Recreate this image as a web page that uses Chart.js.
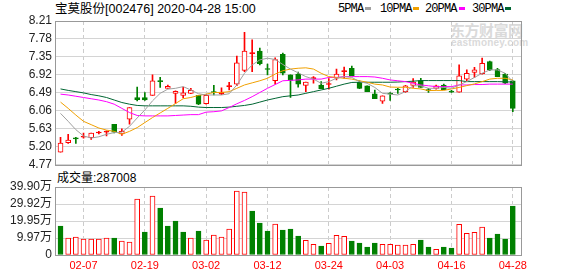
<!DOCTYPE html>
<html>
<head>
<meta charset="utf-8">
<script src="https://cdn.jsdelivr.net/npm/chart.js@4.4.1/dist/chart.umd.min.js"></script>
<style>
  body { margin: 0; width: 578px; height: 276px; background: #fff; position: relative; overflow: hidden;
         font-family: "Liberation Sans", Arial, "Noto Sans CJK SC", sans-serif; }
  .abs { position: absolute; white-space: nowrap; }
  #title { left: 55px; top: 1px; font-size: 12.5px; line-height: 16px; color: #000; }
  .lg { font-family: "Liberation Mono", monospace; font-size: 12px; letter-spacing: -0.9px; top: 2px; line-height: 14px; color: #000; }
  .box { width: 6px; height: 3px; top: 7px; }
  #volLabel { left: 57px; top: 170px; font-size: 12px; line-height: 16px; color: #000; }
  #wm1 { left: 450px; top: 21px; font-size: 15px; font-weight: bold; color: #dadada; font-family: "Noto Sans CJK SC", sans-serif; line-height: 18px; letter-spacing: -0.5px; }
  #wm2 { left: 451px; top: 37px; font-size: 10px; font-weight: bold; color: #dadada; line-height: 11px; letter-spacing: 0.2px; }
  #priceWrap { left: 0; top: 0; }
  #volWrap { left: 0; top: 176px; }
</style>
</head>
<body>
<div id="wm1" class="abs">东方财富网</div>
<div id="wm2" class="abs">eastmoney.com</div>
<div id="title" class="abs">宝莫股份[002476] 2020-04-28 15:00</div>
<div class="abs lg" style="left:338px">5PMA</div><div class="abs box" style="left:365px;background:#a0a0a0"></div>
<div class="abs lg" style="left:380px">10PMA</div><div class="abs box" style="left:413px;background:#f0a000"></div>
<div class="abs lg" style="left:425px">20PMA</div><div class="abs box" style="left:459px;background:#ff00ff"></div>
<div class="abs lg" style="left:472px">30PMA</div><div class="abs box" style="left:505px;background:#006633"></div>
<div id="volLabel" class="abs">成交量:287008</div>
<div id="priceWrap" class="abs"><canvas id="priceChart" width="578" height="175"></canvas></div>
<div id="volWrap" class="abs"><canvas id="volChart" width="578" height="100"></canvas></div>
<script>
const dates = ['02-04','02-05','02-06','02-07','02-10','02-11','02-12','02-13','02-14','02-17',
  '02-18','02-19','02-20','02-21','02-24','02-25','02-26','02-27','02-28','03-02',
  '03-03','03-04','03-05','03-06','03-09','03-10','03-11','03-12','03-13','03-16',
  '03-17','03-18','03-19','03-20','03-23','03-24','03-25','03-26','03-27','03-30',
  '03-31','04-01','04-02','04-03','04-07','04-08','04-09','04-10','04-13','04-14',
  '04-15','04-16','04-17','04-20','04-21','04-22','04-23','04-24','04-27','04-28'];
const tickDates = ['02-07','02-19','03-02','03-12','03-24','04-03','04-16','04-28'];

const opens = [5.07,5.30,5.40,5.43,5.42,5.53,5.55,5.74,5.51,5.86,
  6.38,6.38,6.43,6.78,6.60,6.475,6.43,6.48,6.43,6.23,
  6.51,6.46,6.64,6.70,7.03,7.43,7.49,7.06,6.78,7.41,
  6.92,6.94,6.67,6.83,6.68,6.69,6.84,7.00,7.08,6.74,
  6.66,6.47,6.29,6.47,6.57,6.52,6.67,6.785,6.55,6.60,
  6.68,6.515,6.51,6.82,6.98,6.95,7.24,7.05,6.94,6.78];
const highs = [5.43,5.50,5.43,5.53,5.53,5.57,5.58,5.74,5.63,6.14,
  6.63,6.50,6.92,6.86,6.68,6.54,6.63,6.60,6.43,6.45,
  6.67,6.61,6.74,7.37,7.94,7.76,7.56,7.18,7.33,7.44,
  6.92,6.99,6.75,6.88,6.76,6.83,7.06,7.11,7.13,6.78,
  6.66,6.56,6.42,6.50,6.60,6.67,6.83,6.84,6.60,6.68,
  6.70,6.55,7.16,7.04,7.10,7.32,7.25,7.08,6.96,6.78];
const lows = [5.07,5.28,5.28,5.41,5.38,5.51,5.46,5.53,5.47,5.74,
  6.30,6.31,6.43,6.62,6.60,6.24,6.37,6.47,6.21,6.22,
  6.44,6.45,6.56,6.66,7.00,7.00,7.16,6.92,6.70,6.92,
  6.38,6.63,6.52,6.72,6.59,6.58,6.80,6.84,6.90,6.59,
  6.52,6.35,6.24,6.31,6.48,6.50,6.62,6.62,6.50,6.58,
  6.57,6.50,6.51,6.78,6.86,6.94,7.02,6.88,6.71,6.04];
const closes = [5.29,5.36,5.39,5.45,5.53,5.55,5.57,5.55,5.57,6.14,
  6.33,6.32,6.78,6.76,6.65,6.53,6.49,6.55,6.22,6.43,
  6.50,6.51,6.65,7.21,7.49,7.44,7.19,7.05,7.29,6.96,
  6.79,6.70,6.75,6.84,6.59,6.70,6.94,7.01,6.90,6.60,
  6.52,6.35,6.42,6.46,6.56,6.66,6.75,6.62,6.545,6.66,
  6.57,6.51,6.90,6.96,7.04,7.20,7.04,6.88,6.72,6.12];

const ma5 = [6.00,5.81,5.61,5.46,5.41,5.44,5.50,5.54,5.55,5.69,
  5.89,6.08,6.30,6.48,6.58,6.60,6.64,6.56,6.47,6.44,
  6.44,6.44,6.47,6.68,6.96,7.16,7.28,7.32,7.29,7.17,
  7.06,6.97,6.88,6.82,6.72,6.76,6.84,6.88,6.86,6.76,
  6.72,6.62,6.48,6.46,6.44,6.52,6.66,6.66,6.60,6.60,
  6.62,6.60,6.68,6.76,6.86,6.96,7.04,7.04,6.96,6.76];
const ma10 = [6.27,6.12,5.96,5.81,5.73,5.65,5.60,5.57,5.50,5.57,
  5.66,5.78,5.90,6.01,6.12,6.235,6.35,6.38,6.43,6.46,
  6.50,6.50,6.52,6.60,6.68,6.73,6.78,6.84,6.94,7.02,
  7.06,7.08,7.09,7.06,6.96,6.88,6.86,6.84,6.82,6.78,
  6.745,6.70,6.68,6.63,6.625,6.625,6.60,6.585,6.545,6.55,
  6.55,6.585,6.62,6.665,6.705,6.76,6.82,6.84,6.84,6.80];
const ma20 = [6.46,6.44,6.41,6.38,6.35,6.32,6.28,6.22,6.12,6.02,
  5.95,5.94,5.94,5.94,5.94,5.95,5.96,5.97,5.97,6.03,
  6.04,6.06,6.14,6.23,6.31,6.40,6.50,6.60,6.69,6.78,
  6.79,6.80,6.82,6.82,6.82,6.86,6.86,6.88,6.88,6.88,
  6.88,6.87,6.84,6.80,6.78,6.76,6.72,6.68,6.66,6.64,
  6.64,6.64,6.68,6.68,6.69,6.69,6.70,6.70,6.70,6.70];
const ma30 = [6.585,6.55,6.52,6.49,6.45,6.42,6.38,6.32,6.26,6.22,
  6.19,6.18,6.18,6.18,6.18,6.18,6.18,6.17,6.15,6.14,
  6.14,6.14,6.15,6.17,6.19,6.22,6.27,6.32,6.36,6.40,
  6.42,6.44,6.48,6.52,6.56,6.60,6.65,6.70,6.74,6.745,
  6.745,6.745,6.745,6.745,6.75,6.76,6.77,6.785,6.785,6.785,
  6.785,6.785,6.785,6.76,6.76,6.76,6.76,6.76,6.755,6.75];

// volume in 万 (10k), 1 = closed above the previous close
const volumes = [17.0,9.98,10.56,9.39,9.39,9.39,9.98,9.98,8.21,7.63,
  32.86,13.5,34.6,27.6,17.0,19.95,13.5,9.98,14.1,8.8,
  11.7,10.56,15.26,37.55,36.97,25.8,18.78,14.1,18.2,14.67,
  15.26,11.15,8.6,6.26,5.28,6.85,11.54,10.95,8.21,7.04,
  4.69,7.04,6.26,6.26,5.87,5.87,6.26,8.8,4.69,3.33,
  4.69,4.1,18.0,12.7,13.3,16.4,9.98,12.3,9.39,28.70];
const volRise = [0,1,1,1,1,1,1,0,1,1, 1,0,1,0,0,0,0,1,0,1, 1,1,1,1,1,0,0,0,1,0,
  0,0,1,1,0,1,1,1,0,0, 0,0,1,1,1,1,1,0,0,1, 0,0,1,1,1,1,0,0,0,0];

const priceTicks = [4.77,5.20,5.63,6.06,6.49,6.92,7.35,7.78,8.21];
const volTicks = [0,9.975,19.95,29.925,39.9];
const volTickLabels = ['0','9.97万','19.95万','29.92万','39.90万'];

const RED = '#ff0000', GREEN = '#008000';
const tickIdx = tickDates.map(d => dates.indexOf(d));
const axisFont = { family: '"Liberation Sans", Arial, "Noto Sans CJK SC"', size: 12 };

const frame = {
  id: 'frame',
  afterDatasetsDraw(chart) {
    const { ctx, chartArea: a } = chart;
    ctx.save();
    ctx.strokeStyle = '#999';
    ctx.lineWidth = 1;
    ctx.strokeRect(Math.round(a.left) + 0.5, Math.round(a.top) + 0.5,
      Math.round(a.right - a.left) - 1, Math.round(a.bottom - a.top));
    ctx.restore();
  }
};

const xScale = (showLabels) => ({
  type: 'linear', min: -0.72, max: 60.2, offset: false,
  afterBuildTicks: s => { s.ticks = tickIdx.map(v => ({ value: v })); },
  afterFit: s => { s.height = showLabels ? 21 : 0; },
  ticks: {
    display: showLabels, autoSkip: false, maxRotation: 0, padding: 4,
    color: RED, font: { family: '"Liberation Sans", Arial', size: 11 },
    callback: v => dates[v]
  },
  grid: { color: '#cccccc', drawTicks: false, offset: false },
  border: { display: false, dash: [4, 3] }
});

const maLine = (label, arr, color) => ({
  type: 'line', label, data: arr.map((v, i) => ({ x: i, y: v })),
  borderColor: color, borderWidth: 1, pointRadius: 0, tension: 0, order: 1
});

const isUp = i => closes[i] > opens[i];

new Chart(document.getElementById('priceChart'), {
  type: 'bar',
  data: {
    datasets: [
      maLine('MA5', ma5, '#a0a0a0'),
      maLine('MA10', ma10, '#f0a000'),
      maLine('MA20', ma20, '#ff00ff'),
      maLine('MA30', ma30, '#006633'),
      {
        label: 'body', order: 2, grouped: false, barThickness: 5, minBarLength: 1,
        data: opens.map((o, i) => ({ x: i, y: [o, closes[i]] })),
        borderWidth: 1, borderSkipped: false,
        borderColor: c => isUp(c.dataIndex) ? RED : GREEN,
        backgroundColor: c => {
          const i = c.dataIndex;
          if (!isUp(i)) return GREEN;
          return (closes[i] - opens[i]) < 0.05 ? RED : '#ffffff';
        }
      },
      {
        label: 'wick', order: 3, grouped: false, barThickness: 1,
        data: lows.map((l, i) => ({ x: i, y: [l, highs[i]] })),
        backgroundColor: c => isUp(c.dataIndex) ? RED : GREEN
      }
    ]
  },
  options: {
    responsive: false, animation: false,
    layout: { padding: { top: 21, right: 56, bottom: 10, left: 0 } },
    plugins: { legend: { display: false }, tooltip: { enabled: false } },
    scales: {
      x: xScale(false),
      y: {
        min: 4.77, max: 8.21,
        afterBuildTicks: s => { s.ticks = priceTicks.map(v => ({ value: v })); },
        afterFit: s => { s.width = 55; },
        ticks: { color: '#222', font: axisFont, padding: 3, autoSkip: false, callback: v => v.toFixed(2) },
        grid: { color: '#d4d4d4', drawTicks: false },
        border: { display: false }
      }
    }
  },
  plugins: [frame]
});

new Chart(document.getElementById('volChart'), {
  type: 'bar',
  data: {
    datasets: [{
      label: 'volume', grouped: false, barThickness: 5,
      data: volumes.map((v, i) => ({ x: i, y: v })),
      borderWidth: 1, borderSkipped: false,
      borderColor: c => volRise[c.dataIndex] ? RED : GREEN,
      backgroundColor: c => volRise[c.dataIndex] ? '#ffffff' : GREEN
    }]
  },
  options: {
    responsive: false, animation: false,
    layout: { padding: { top: 11, right: 56, bottom: 0, left: 0 } },
    plugins: { legend: { display: false }, tooltip: { enabled: false } },
    scales: {
      x: xScale(true),
      y: {
        min: 0, max: 39.9,
        afterBuildTicks: s => { s.ticks = volTicks.map(v => ({ value: v })); },
        afterFit: s => { s.width = 55; },
        ticks: { color: '#222', font: axisFont, padding: 3, autoSkip: false, callback: (v, i) => volTickLabels[i] },
        grid: { color: '#d4d4d4', drawTicks: false },
        border: { display: false }
      }
    }
  },
  plugins: [frame]
});
</script>
</body>
</html>
